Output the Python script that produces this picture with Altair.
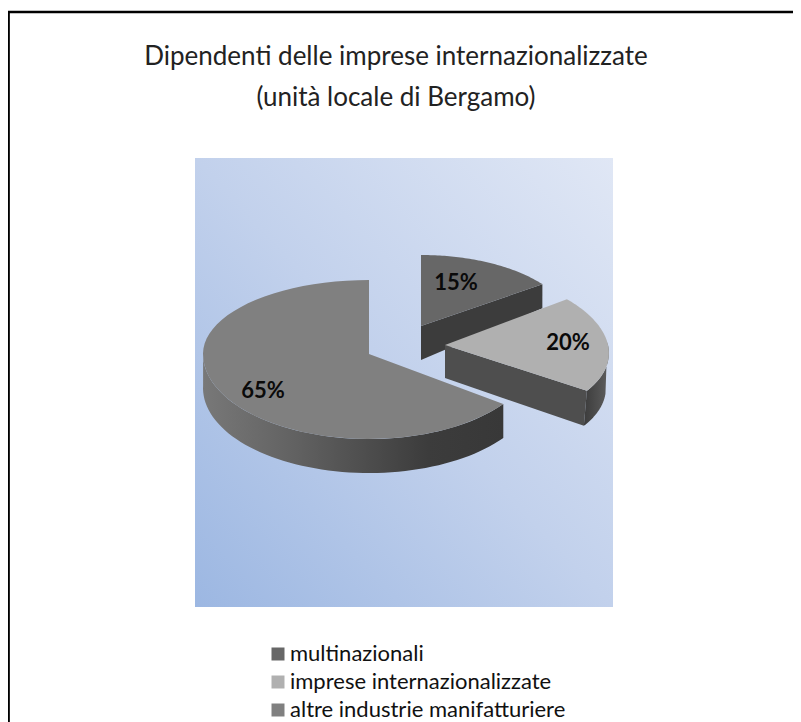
import math
import altair as alt
import pandas as pd

# values
categories = ["multinazionali", "imprese internazionalizzate", "altre industrie manifatturiere"]
shares = [15, 20, 65]
top_colors = ["#676767", "#b0b0b0", "#808080"]
title_lines = ["Dipendenti delle imprese internazionalizzate", "(unità locale di Bergamo)"]

# 3D pie layout (page pixels): apex, radii back/front, horizontal skew, wall depth
WEDGE = [
    dict(cx=421, cy=326, rx=150, ryb=71, ryf=71, sk=0),
    dict(cx=445, cy=345, rx=163, ryb=78, ryf=78, sk=-17),
    dict(cx=369, cy=354, rx=166, ryb=74, ryf=85, sk=0),
]
LABEL_POS = [(456, 283), (568, 343), (263, 391)]

# cumulative angles from the shares (clockwise from 12 o'clock)
starts = [sum(shares[:i]) * 3.6 for i in range(3)]
ends = [sum(shares[:i + 1]) * 3.6 for i in range(3)]


def pt(w, deg):
    a = math.radians(deg)
    c = math.cos(a)
    ry = w["ryb"] if c > 0 else w["ryf"]
    return (w["cx"] + w["rx"] * math.sin(a) + w["sk"] * c, w["cy"] - ry * c)


def arc(w, a0, a1, n=60):
    return [pt(w, a0 + (a1 - a0) * i / n) for i in range(n + 1)]


def frame(points):
    points = points + [points[0]]
    return pd.DataFrame({"x": [p[0] for p in points], "y": [p[1] for p in points], "i": range(len(points))})


top_rows = []
for k, w in enumerate(WEDGE):
    f = frame([(w["cx"], w["cy"])] + arc(w, starts[k], ends[k]))
    f["category"] = categories[k]
    top_rows.append(f)
tops_df = pd.concat(top_rows)

sx = alt.Scale(domain=[8, 793], range=[0, 785], nice=False, zero=False)
sy = alt.Scale(domain=[8, 722], range=[0, 714], nice=False, zero=False)
X = alt.X("x:Q", scale=sx, axis=None)
Y = alt.Y("y:Q", scale=sy, axis=None)


def poly(points, fill):
    return alt.Chart(frame(points)).mark_line(fill=fill, strokeWidth=0, interpolate="linear").encode(
        x=X, y=Y, order="i:Q"
    )


def offset(points, dx, dy):
    return [(p[0] + dx, p[1] + dy) for p in points]


def hgrad(stops):
    return alt.Gradient(gradient="linear", x1=0, y1=0, x2=1, y2=0,
                        stops=[alt.GradientStop(offset=o, color=c) for o, c in stops])


# background panel
bg = alt.Chart(pd.DataFrame({"x": [195], "x2": [613], "y": [158], "y2": [607]})).mark_rect(
    fill=alt.Gradient(gradient="linear", x1=0, y1=1, x2=1, y2=0,
                      stops=[alt.GradientStop(offset=0, color="#9cb7e2"),
                             alt.GradientStop(offset=0.5, color="#c2d1ec"),
                             alt.GradientStop(offset=1, color="#e0e7f5")])
).encode(x=X, x2="x2:Q", y=Y, y2="y2:Q")

# walls
w15, w20, w65 = WEDGE
e15 = pt(w15, ends[0])
apex15 = (w15["cx"], w15["cy"])
wall15 = poly([apex15, e15, (e15[0], e15[1] + 24), (apex15[0], apex15[1] + 34)], "#3c3c3c")

e20 = pt(w20, ends[1])
apex20 = (w20["cx"], w20["cy"])
cut20 = poly([apex20, e20, (e20[0] - 3, e20[1] + 35), (apex20[0], apex20[1] + 33)], "#4e4e4e")
outer_top = arc(w20, 88, ends[1])
outer_bot = offset(arc(w20, 100, ends[1]), -3, 35)
outer20 = poly(outer_top + outer_bot[::-1],
               hgrad([(0, "#3c3c3c"), (1, "#5e5e5e")]))

front = arc(w65, starts[2], 272)
wall65 = poly(front + offset(front, 0, 34)[::-1],
              hgrad([(0, "#787878"), (0.3, "#626262"), (0.75, "#3c3c3c"), (1, "#383838")]))

# tops, with the legend
tops = alt.Chart(tops_df).mark_line(strokeWidth=0, interpolate="linear").encode(
    x=X, y=Y, order="i:Q",
    fill=alt.Fill(
        "category:N",
        scale=alt.Scale(domain=categories, range=top_colors),
        legend=alt.Legend(
            title=None, orient="none", legendX=259, legendY=635,
            symbolType="square", symbolSize=169, symbolStrokeWidth=0,
            labelFont="Lato", labelFontSize=22, labelColor="#111111", labelLimit=400,
            rowPadding=6, labelOffset=1,
        ),
    ),
)

labels_df = pd.DataFrame({
    "x": [p[0] for p in LABEL_POS],
    "y": [p[1] for p in LABEL_POS],
    "t": [f"{s}%" for s in shares],
})
labels = alt.Chart(labels_df).mark_text(font="Lato", fontSize=22, fontWeight="bold", color="#0a0a0a").encode(
    x=X, y=Y, text="t:N"
)

title_df = pd.DataFrame({"x": [396, 396], "y": [57, 98], "t": title_lines})
title = alt.Chart(title_df).mark_text(font="Lato", fontSize=26, color="#222222", align="center").encode(
    x=X, y=Y, text="t:N"
)

rule_left = alt.Chart(pd.DataFrame({"a": [0]})).mark_rule(color="black", strokeWidth=2.5).encode(
    x=alt.value(0.6), y=alt.value(3), y2=alt.value(714))
rule_top = alt.Chart(pd.DataFrame({"a": [0]})).mark_rule(color="black", strokeWidth=2.5).encode(
    y=alt.value(4), x=alt.value(0), x2=alt.value(785))

chart = alt.layer(
    bg, wall65, wall15, cut20, outer20, tops, labels, title, rule_left, rule_top
).properties(
    width=785, height=714, padding=0, autosize=alt.AutoSizeParams(type="none"), background="white"
).configure_view(stroke=None)

chart.save("out.html", embed_options={"renderer": "svg", "actions": False})
